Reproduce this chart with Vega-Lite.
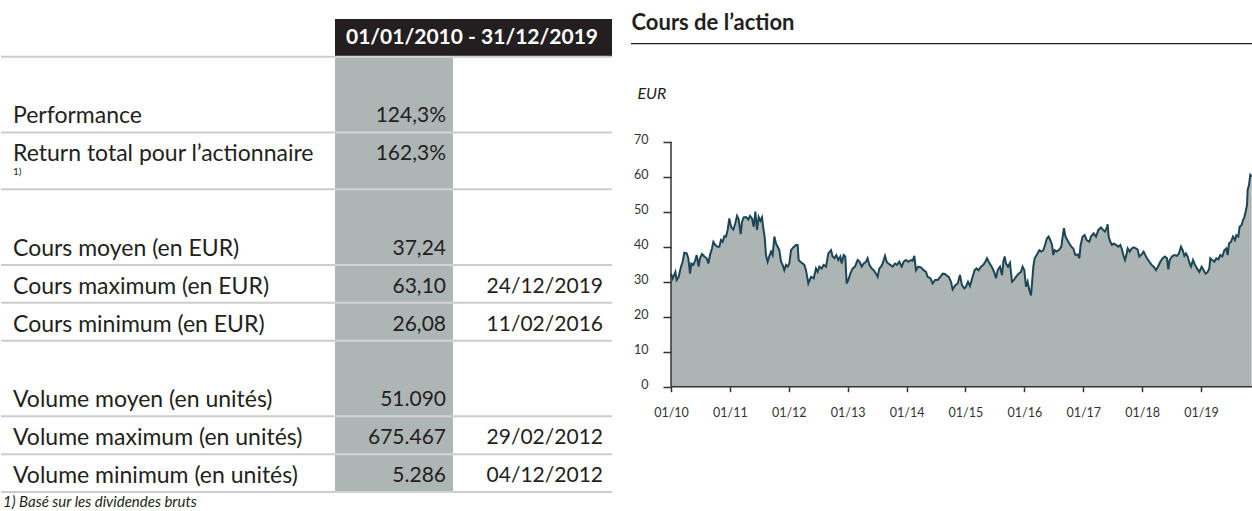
{
  "$schema": "https://vega.github.io/schema/vega-lite/v6.json",
  "padding": 0,
  "background": "white",
  "config": {"view": {"stroke": null}, "font": "Lato", "axis": {"labelFont": "Lato", "titleFont": "Lato"}},
  "datasets": {
    "lignes": [
      {"ligne": "perf", "libelle": "Performance", "note": "", "valeur": "124,3%", "date": ""},
      {"ligne": "ret", "libelle": "Return total pour l’actionnaire", "note": "1)", "valeur": "162,3%", "date": ""},
      {"ligne": "cmoy", "libelle": "Cours moyen (en EUR)", "note": "", "valeur": "37,24", "date": ""},
      {"ligne": "cmax", "libelle": "Cours maximum (en EUR)", "note": "", "valeur": "63,10", "date": "24/12/2019"},
      {"ligne": "cmin", "libelle": "Cours minimum (en EUR)", "note": "", "valeur": "26,08", "date": "11/02/2016"},
      {"ligne": "vmoy", "libelle": "Volume moyen (en unités)", "note": "", "valeur": "51.090", "date": ""},
      {"ligne": "vmax", "libelle": "Volume maximum (en unités)", "note": "", "valeur": "675.467", "date": "29/02/2012"},
      {"ligne": "vmin", "libelle": "Volume minimum (en unités)", "note": "", "valeur": "5.286", "date": "04/12/2012"}
    ],
    "separateurs": [
      {"cle": "perf_a"}, {"cle": "ret_a"}, {"cle": "cmoy_a"}, {"cle": "cmax_a"}, {"cle": "cmin_a"},
      {"cle": "vmoy_a"}, {"cle": "vmax_a"}, {"cle": "vmin_a"}, {"cle": "note"}
    ],
    "entete": [{"periode": "01/01/2010 - 31/12/2019"}],
    "pied": [{"texte": "1) Basé sur les dividendes bruts"}],
    "titre": [{"titre": "Cours de l’action"}],
    "prix": [
      {"annee": 2010.000, "cours": 32.3}, {"annee": 2010.028, "cours": 30.9}, {"annee": 2010.074, "cours": 32.8},
      {"annee": 2010.096, "cours": 30.5}, {"annee": 2010.130, "cours": 31.4}, {"annee": 2010.170, "cours": 34.3},
      {"annee": 2010.198, "cours": 35.7}, {"annee": 2010.226, "cours": 38.3}, {"annee": 2010.266, "cours": 38.1},
      {"annee": 2010.294, "cours": 36.7}, {"annee": 2010.323, "cours": 32.3}, {"annee": 2010.345, "cours": 35.2},
      {"annee": 2010.379, "cours": 34.8}, {"annee": 2010.413, "cours": 36.2}, {"annee": 2010.436, "cours": 37.6},
      {"annee": 2010.470, "cours": 34.3}, {"annee": 2010.492, "cours": 36.7}, {"annee": 2010.526, "cours": 37.9},
      {"annee": 2010.566, "cours": 37.2}, {"annee": 2010.606, "cours": 36.7}, {"annee": 2010.634, "cours": 35.2},
      {"annee": 2010.662, "cours": 37.6}, {"annee": 2010.696, "cours": 39.5}, {"annee": 2010.719, "cours": 41.4},
      {"annee": 2010.753, "cours": 40.5}, {"annee": 2010.792, "cours": 40.0}, {"annee": 2010.821, "cours": 40.0},
      {"annee": 2010.849, "cours": 41.9}, {"annee": 2010.877, "cours": 41.4}, {"annee": 2010.906, "cours": 43.0},
      {"annee": 2010.934, "cours": 42.9}, {"annee": 2010.962, "cours": 44.8}, {"annee": 2010.990, "cours": 48.1},
      {"annee": 2011.019, "cours": 45.7}, {"annee": 2011.058, "cours": 44.9}, {"annee": 2011.092, "cours": 46.7},
      {"annee": 2011.121, "cours": 48.8}, {"annee": 2011.149, "cours": 47.8}, {"annee": 2011.183, "cours": 43.6},
      {"annee": 2011.206, "cours": 47.1}, {"annee": 2011.234, "cours": 48.4}, {"annee": 2011.274, "cours": 48.5},
      {"annee": 2011.313, "cours": 47.8}, {"annee": 2011.341, "cours": 48.8}, {"annee": 2011.375, "cours": 48.1},
      {"annee": 2011.404, "cours": 45.7}, {"annee": 2011.432, "cours": 50.0}, {"annee": 2011.460, "cours": 44.8},
      {"annee": 2011.489, "cours": 48.5}, {"annee": 2011.517, "cours": 47.4}, {"annee": 2011.545, "cours": 48.4},
      {"annee": 2011.568, "cours": 45.2}, {"annee": 2011.590, "cours": 42.9}, {"annee": 2011.613, "cours": 37.6},
      {"annee": 2011.641, "cours": 35.7}, {"annee": 2011.670, "cours": 37.3}, {"annee": 2011.698, "cours": 38.6},
      {"annee": 2011.726, "cours": 37.6}, {"annee": 2011.755, "cours": 42.9}, {"annee": 2011.783, "cours": 40.9},
      {"annee": 2011.811, "cours": 40.0}, {"annee": 2011.840, "cours": 39.0}, {"annee": 2011.868, "cours": 35.7},
      {"annee": 2011.896, "cours": 34.8}, {"annee": 2011.924, "cours": 33.3}, {"annee": 2011.953, "cours": 34.8},
      {"annee": 2011.981, "cours": 34.3}, {"annee": 2012.009, "cours": 35.2}, {"annee": 2012.038, "cours": 39.0},
      {"annee": 2012.077, "cours": 39.8}, {"annee": 2012.123, "cours": 40.5}, {"annee": 2012.151, "cours": 40.5},
      {"annee": 2012.168, "cours": 36.2}, {"annee": 2012.196, "cours": 35.7}, {"annee": 2012.236, "cours": 35.2},
      {"annee": 2012.264, "cours": 34.8}, {"annee": 2012.292, "cours": 33.3}, {"annee": 2012.332, "cours": 29.5},
      {"annee": 2012.377, "cours": 31.4}, {"annee": 2012.423, "cours": 31.0}, {"annee": 2012.462, "cours": 33.8},
      {"annee": 2012.491, "cours": 32.8}, {"annee": 2012.519, "cours": 34.3}, {"annee": 2012.558, "cours": 33.8},
      {"annee": 2012.592, "cours": 34.8}, {"annee": 2012.632, "cours": 34.3}, {"annee": 2012.672, "cours": 38.1},
      {"annee": 2012.717, "cours": 39.0}, {"annee": 2012.745, "cours": 37.2}, {"annee": 2012.774, "cours": 36.7},
      {"annee": 2012.807, "cours": 37.6}, {"annee": 2012.841, "cours": 36.2}, {"annee": 2012.875, "cours": 37.2},
      {"annee": 2012.898, "cours": 35.2}, {"annee": 2012.932, "cours": 37.6}, {"annee": 2012.960, "cours": 37.2},
      {"annee": 2012.983, "cours": 29.5}, {"annee": 2013.011, "cours": 30.5}, {"annee": 2013.045, "cours": 32.3},
      {"annee": 2013.085, "cours": 33.8}, {"annee": 2013.124, "cours": 34.3}, {"annee": 2013.170, "cours": 36.2},
      {"annee": 2013.204, "cours": 35.7}, {"annee": 2013.238, "cours": 34.3}, {"annee": 2013.272, "cours": 35.2},
      {"annee": 2013.311, "cours": 35.7}, {"annee": 2013.339, "cours": 36.7}, {"annee": 2013.368, "cours": 34.8},
      {"annee": 2013.407, "cours": 33.8}, {"annee": 2013.441, "cours": 33.3}, {"annee": 2013.481, "cours": 32.3},
      {"annee": 2013.509, "cours": 31.4}, {"annee": 2013.538, "cours": 33.8}, {"annee": 2013.566, "cours": 34.3},
      {"annee": 2013.594, "cours": 35.2}, {"annee": 2013.634, "cours": 37.4}, {"annee": 2013.662, "cours": 35.7},
      {"annee": 2013.690, "cours": 35.2}, {"annee": 2013.724, "cours": 34.8}, {"annee": 2013.764, "cours": 34.3},
      {"annee": 2013.804, "cours": 35.2}, {"annee": 2013.838, "cours": 34.8}, {"annee": 2013.877, "cours": 35.7},
      {"annee": 2013.917, "cours": 34.3}, {"annee": 2013.951, "cours": 35.7}, {"annee": 2013.990, "cours": 36.2},
      {"annee": 2014.030, "cours": 35.7}, {"annee": 2014.075, "cours": 36.2}, {"annee": 2014.104, "cours": 36.0},
      {"annee": 2014.132, "cours": 37.4}, {"annee": 2014.160, "cours": 33.3}, {"annee": 2014.200, "cours": 34.3},
      {"annee": 2014.245, "cours": 34.1}, {"annee": 2014.290, "cours": 33.3}, {"annee": 2014.330, "cours": 32.8},
      {"annee": 2014.358, "cours": 31.4}, {"annee": 2014.404, "cours": 31.0}, {"annee": 2014.443, "cours": 29.5},
      {"annee": 2014.483, "cours": 30.5}, {"annee": 2014.528, "cours": 30.5}, {"annee": 2014.573, "cours": 31.4},
      {"annee": 2014.613, "cours": 32.3}, {"annee": 2014.653, "cours": 32.2}, {"annee": 2014.670, "cours": 31.9},
      {"annee": 2014.715, "cours": 31.4}, {"annee": 2014.755, "cours": 30.0}, {"annee": 2014.783, "cours": 27.8},
      {"annee": 2014.828, "cours": 29.0}, {"annee": 2014.868, "cours": 29.5}, {"annee": 2014.907, "cours": 31.9},
      {"annee": 2014.941, "cours": 29.0}, {"annee": 2014.981, "cours": 28.1}, {"annee": 2015.009, "cours": 28.6},
      {"annee": 2015.043, "cours": 30.0}, {"annee": 2015.077, "cours": 28.8}, {"annee": 2015.122, "cours": 31.4},
      {"annee": 2015.156, "cours": 33.3}, {"annee": 2015.190, "cours": 33.8}, {"annee": 2015.224, "cours": 33.3},
      {"annee": 2015.264, "cours": 34.3}, {"annee": 2015.304, "cours": 34.8}, {"annee": 2015.338, "cours": 35.7},
      {"annee": 2015.366, "cours": 36.7}, {"annee": 2015.394, "cours": 35.7}, {"annee": 2015.428, "cours": 34.8},
      {"annee": 2015.462, "cours": 33.8}, {"annee": 2015.496, "cours": 32.3}, {"annee": 2015.519, "cours": 31.0},
      {"annee": 2015.547, "cours": 33.3}, {"annee": 2015.587, "cours": 34.3}, {"annee": 2015.621, "cours": 31.9},
      {"annee": 2015.643, "cours": 35.7}, {"annee": 2015.666, "cours": 37.2}, {"annee": 2015.688, "cours": 35.2},
      {"annee": 2015.722, "cours": 34.3}, {"annee": 2015.756, "cours": 35.4}, {"annee": 2015.790, "cours": 30.0},
      {"annee": 2015.824, "cours": 30.5}, {"annee": 2015.858, "cours": 31.4}, {"annee": 2015.903, "cours": 32.3},
      {"annee": 2015.943, "cours": 32.8}, {"annee": 2015.971, "cours": 34.3}, {"annee": 2016.000, "cours": 33.3},
      {"annee": 2016.028, "cours": 28.6}, {"annee": 2016.056, "cours": 30.0}, {"annee": 2016.085, "cours": 27.6},
      {"annee": 2016.113, "cours": 26.1}, {"annee": 2016.130, "cours": 29.5}, {"annee": 2016.153, "cours": 34.3},
      {"annee": 2016.175, "cours": 36.7}, {"annee": 2016.209, "cours": 37.6}, {"annee": 2016.254, "cours": 39.0},
      {"annee": 2016.288, "cours": 38.6}, {"annee": 2016.322, "cours": 39.0}, {"annee": 2016.351, "cours": 40.5},
      {"annee": 2016.385, "cours": 42.4}, {"annee": 2016.413, "cours": 42.9}, {"annee": 2016.441, "cours": 41.9},
      {"annee": 2016.470, "cours": 40.5}, {"annee": 2016.492, "cours": 37.6}, {"annee": 2016.515, "cours": 39.0},
      {"annee": 2016.549, "cours": 38.6}, {"annee": 2016.594, "cours": 39.2}, {"annee": 2016.628, "cours": 40.0},
      {"annee": 2016.651, "cours": 42.9}, {"annee": 2016.673, "cours": 45.3}, {"annee": 2016.696, "cours": 43.1},
      {"annee": 2016.730, "cours": 41.9}, {"annee": 2016.764, "cours": 40.9}, {"annee": 2016.798, "cours": 40.0},
      {"annee": 2016.832, "cours": 39.5}, {"annee": 2016.866, "cours": 37.6}, {"annee": 2016.906, "cours": 37.8},
      {"annee": 2016.934, "cours": 36.7}, {"annee": 2016.956, "cours": 40.5}, {"annee": 2016.990, "cours": 42.9},
      {"annee": 2017.024, "cours": 43.3}, {"annee": 2017.058, "cours": 41.9}, {"annee": 2017.104, "cours": 41.4},
      {"annee": 2017.132, "cours": 42.9}, {"annee": 2017.177, "cours": 43.8}, {"annee": 2017.217, "cours": 42.9},
      {"annee": 2017.257, "cours": 44.8}, {"annee": 2017.302, "cours": 45.5}, {"annee": 2017.336, "cours": 44.8},
      {"annee": 2017.370, "cours": 44.3}, {"annee": 2017.404, "cours": 45.7}, {"annee": 2017.415, "cours": 46.4},
      {"annee": 2017.432, "cours": 42.9}, {"annee": 2017.460, "cours": 41.4}, {"annee": 2017.489, "cours": 40.5},
      {"annee": 2017.517, "cours": 40.9}, {"annee": 2017.557, "cours": 40.5}, {"annee": 2017.596, "cours": 40.0},
      {"annee": 2017.630, "cours": 40.5}, {"annee": 2017.653, "cours": 39.5}, {"annee": 2017.681, "cours": 37.6},
      {"annee": 2017.709, "cours": 36.2}, {"annee": 2017.732, "cours": 37.6}, {"annee": 2017.755, "cours": 39.5},
      {"annee": 2017.789, "cours": 38.6}, {"annee": 2017.823, "cours": 39.5}, {"annee": 2017.856, "cours": 39.8},
      {"annee": 2017.896, "cours": 39.5}, {"annee": 2017.924, "cours": 39.2}, {"annee": 2017.953, "cours": 37.2},
      {"annee": 2017.992, "cours": 37.8}, {"annee": 2018.026, "cours": 38.6}, {"annee": 2018.055, "cours": 37.6},
      {"annee": 2018.083, "cours": 36.7}, {"annee": 2018.123, "cours": 35.7}, {"annee": 2018.162, "cours": 34.8},
      {"annee": 2018.196, "cours": 34.3}, {"annee": 2018.236, "cours": 33.3}, {"annee": 2018.275, "cours": 34.5},
      {"annee": 2018.309, "cours": 35.7}, {"annee": 2018.349, "cours": 36.7}, {"annee": 2018.389, "cours": 37.2},
      {"annee": 2018.422, "cours": 36.7}, {"annee": 2018.445, "cours": 33.5}, {"annee": 2018.468, "cours": 36.2},
      {"annee": 2018.507, "cours": 37.2}, {"annee": 2018.547, "cours": 37.6}, {"annee": 2018.592, "cours": 37.4},
      {"annee": 2018.626, "cours": 38.1}, {"annee": 2018.660, "cours": 40.0}, {"annee": 2018.689, "cours": 39.0},
      {"annee": 2018.717, "cours": 37.4}, {"annee": 2018.745, "cours": 38.1}, {"annee": 2018.773, "cours": 37.2},
      {"annee": 2018.807, "cours": 35.2}, {"annee": 2018.830, "cours": 34.3}, {"annee": 2018.864, "cours": 36.2},
      {"annee": 2018.898, "cours": 34.8}, {"annee": 2018.932, "cours": 33.8}, {"annee": 2018.972, "cours": 32.8},
      {"annee": 2019.011, "cours": 34.3}, {"annee": 2019.045, "cours": 33.3}, {"annee": 2019.079, "cours": 32.3},
      {"annee": 2019.113, "cours": 32.8}, {"annee": 2019.141, "cours": 33.8}, {"annee": 2019.158, "cours": 36.7},
      {"annee": 2019.192, "cours": 36.2}, {"annee": 2019.226, "cours": 35.7}, {"annee": 2019.260, "cours": 36.7},
      {"annee": 2019.294, "cours": 36.4}, {"annee": 2019.328, "cours": 37.6}, {"annee": 2019.362, "cours": 37.2},
      {"annee": 2019.396, "cours": 39.0}, {"annee": 2019.430, "cours": 39.5}, {"annee": 2019.453, "cours": 37.6},
      {"annee": 2019.475, "cours": 40.9}, {"annee": 2019.509, "cours": 41.4}, {"annee": 2019.543, "cours": 42.9},
      {"annee": 2019.577, "cours": 41.9}, {"annee": 2019.600, "cours": 43.3}, {"annee": 2019.634, "cours": 42.9},
      {"annee": 2019.656, "cours": 45.7}, {"annee": 2019.690, "cours": 46.2}, {"annee": 2019.713, "cours": 47.6},
      {"annee": 2019.735, "cours": 48.4}, {"annee": 2019.758, "cours": 50.0}, {"annee": 2019.781, "cours": 51.9},
      {"annee": 2019.792, "cours": 56.2}, {"annee": 2019.815, "cours": 57.6}, {"annee": 2019.837, "cours": 60.5},
      {"annee": 2019.860, "cours": 60.0}
    ]
  },
  "hconcat": [
    {
      "width": 334,
      "height": 511,
      "layer": [
        {
          "data": {"name": "separateurs"},
          "mark": {"type": "rule", "color": "#cccccc", "strokeWidth": 2},
          "encoding": {
            "y": {"field": "cle", "type": "nominal", "axis": null, "bandPosition": 0,
              "scale": {"type": "band", "paddingInner": 0, "paddingOuter": 0, "domain": ["haut","entete_a","entete_b","perf_a","perf_b","perf_c","perf","ret_a","ret","ret_c","cmoy_a","cmoy_b","cmoy_c","cmoy","cmax_a","cmax","cmin_a","cmin","vmoy_a","vmoy_b","vmoy_c","vmoy","vmax_a","vmax","vmin_a","vmin","note"]}}
          }
        },
        {
          "data": {"name": "lignes"},
          "mark": {"type": "text", "align": "left", "baseline": "middle", "font": "Lato", "fontSize": 23, "color": "#231f20", "dx": 12},
          "encoding": {
            "x": {"datum": "libelle", "type": "nominal", "axis": null, "bandPosition": 0, "scale": {"type": "band", "paddingInner": 0, "paddingOuter": 0}},
            "y": {"field": "ligne", "type": "nominal", "axis": null, "bandPosition": 0.15,
              "scale": {"type": "band", "paddingInner": 0, "paddingOuter": 0, "domain": ["haut","entete_a","entete_b","perf_a","perf_b","perf_c","perf","ret_a","ret","ret_c","cmoy_a","cmoy_b","cmoy_c","cmoy","cmax_a","cmax","cmin_a","cmin","vmoy_a","vmoy_b","vmoy_c","vmoy","vmax_a","vmax","vmin_a","vmin","note"]}},
            "text": {"field": "libelle"}
          }
        },
        {
          "data": {"name": "lignes"},
          "mark": {"type": "text", "align": "left", "baseline": "middle", "font": "Lato", "fontSize": 10, "color": "#231f20", "dx": 12, "dy": 18},
          "encoding": {
            "x": {"datum": "libelle", "type": "nominal", "axis": null, "bandPosition": 0, "scale": {"type": "band", "paddingInner": 0, "paddingOuter": 0}},
            "y": {"field": "ligne", "type": "nominal", "axis": null, "bandPosition": 0.15,
              "scale": {"type": "band", "paddingInner": 0, "paddingOuter": 0, "domain": ["haut","entete_a","entete_b","perf_a","perf_b","perf_c","perf","ret_a","ret","ret_c","cmoy_a","cmoy_b","cmoy_c","cmoy","cmax_a","cmax","cmin_a","cmin","vmoy_a","vmoy_b","vmoy_c","vmoy","vmax_a","vmax","vmin_a","vmin","note"]}},
            "text": {"field": "note"}
          }
        },
        {
          "data": {"name": "pied"},
          "mark": {"type": "text", "align": "left", "baseline": "middle", "font": "Lato", "fontSize": 15, "fontStyle": "italic", "color": "#231f20", "dx": 2},
          "encoding": {
            "x": {"datum": "libelle", "type": "nominal", "axis": null, "bandPosition": 0, "scale": {"type": "band", "paddingInner": 0, "paddingOuter": 0}},
            "y": {"datum": "note", "type": "nominal", "axis": null, "bandPosition": 0.5,
              "scale": {"type": "band", "paddingInner": 0, "paddingOuter": 0, "domain": ["haut","entete_a","entete_b","perf_a","perf_b","perf_c","perf","ret_a","ret","ret_c","cmoy_a","cmoy_b","cmoy_c","cmoy","cmax_a","cmax","cmin_a","cmin","vmoy_a","vmoy_b","vmoy_c","vmoy","vmax_a","vmax","vmin_a","vmin","note"]}},
            "text": {"field": "texte"}
          }
        }
      ]
    },
    {
      "width": 118,
      "height": 511,
      "layer": [
        {
          "data": {"name": "entete"},
          "mark": {"type": "rect", "color": "#aeb5b5"},
          "encoding": {
            "y": {"datum": "perf_a", "type": "nominal", "axis": null, "bandPosition": 0,
              "scale": {"type": "band", "paddingInner": 0, "paddingOuter": 0, "domain": ["haut","entete_a","entete_b","perf_a","perf_b","perf_c","perf","ret_a","ret","ret_c","cmoy_a","cmoy_b","cmoy_c","cmoy","cmax_a","cmax","cmin_a","cmin","vmoy_a","vmoy_b","vmoy_c","vmoy","vmax_a","vmax","vmin_a","vmin","note"]}},
            "y2": {"datum": "note", "bandPosition": 0}
          }
        },
        {
          "data": {"name": "entete"},
          "mark": {"type": "rect", "color": "#231f20"},
          "encoding": {
            "y": {"datum": "entete_a", "type": "nominal", "axis": null, "bandPosition": 0,
              "scale": {"type": "band", "paddingInner": 0, "paddingOuter": 0, "domain": ["haut","entete_a","entete_b","perf_a","perf_b","perf_c","perf","ret_a","ret","ret_c","cmoy_a","cmoy_b","cmoy_c","cmoy","cmax_a","cmax","cmin_a","cmin","vmoy_a","vmoy_b","vmoy_c","vmoy","vmax_a","vmax","vmin_a","vmin","note"]}},
            "y2": {"datum": "perf_a", "bandPosition": 0}
          }
        },
        {
          "data": {"name": "separateurs"},
          "mark": {"type": "rule", "color": "#d4d4d4", "strokeWidth": 2},
          "encoding": {
            "y": {"field": "cle", "type": "nominal", "axis": null, "bandPosition": 0,
              "scale": {"type": "band", "paddingInner": 0, "paddingOuter": 0, "domain": ["haut","entete_a","entete_b","perf_a","perf_b","perf_c","perf","ret_a","ret","ret_c","cmoy_a","cmoy_b","cmoy_c","cmoy","cmax_a","cmax","cmin_a","cmin","vmoy_a","vmoy_b","vmoy_c","vmoy","vmax_a","vmax","vmin_a","vmin","note"]}}
          }
        },
        {
          "data": {"name": "lignes"},
          "mark": {"type": "text", "align": "right", "baseline": "middle", "font": "Lato", "fontSize": 21, "color": "#231f20", "dx": -7},
          "encoding": {
            "x": {"datum": "valeur", "type": "nominal", "axis": null, "bandPosition": 1, "scale": {"type": "band", "paddingInner": 0, "paddingOuter": 0}},
            "y": {"field": "ligne", "type": "nominal", "axis": null, "bandPosition": 0.15,
              "scale": {"type": "band", "paddingInner": 0, "paddingOuter": 0, "domain": ["haut","entete_a","entete_b","perf_a","perf_b","perf_c","perf","ret_a","ret","ret_c","cmoy_a","cmoy_b","cmoy_c","cmoy","cmax_a","cmax","cmin_a","cmin","vmoy_a","vmoy_b","vmoy_c","vmoy","vmax_a","vmax","vmin_a","vmin","note"]}},
            "text": {"field": "valeur"}
          }
        }
      ]
    },
    {
      "width": 159,
      "height": 511,
      "layer": [
        {
          "data": {"name": "entete"},
          "mark": {"type": "rect", "color": "#231f20"},
          "encoding": {
            "y": {"datum": "entete_a", "type": "nominal", "axis": null, "bandPosition": 0,
              "scale": {"type": "band", "paddingInner": 0, "paddingOuter": 0, "domain": ["haut","entete_a","entete_b","perf_a","perf_b","perf_c","perf","ret_a","ret","ret_c","cmoy_a","cmoy_b","cmoy_c","cmoy","cmax_a","cmax","cmin_a","cmin","vmoy_a","vmoy_b","vmoy_c","vmoy","vmax_a","vmax","vmin_a","vmin","note"]}},
            "y2": {"datum": "perf_a", "bandPosition": 0}
          }
        },
        {
          "data": {"name": "separateurs"},
          "mark": {"type": "rule", "color": "#cccccc", "strokeWidth": 2},
          "encoding": {
            "y": {"field": "cle", "type": "nominal", "axis": null, "bandPosition": 0,
              "scale": {"type": "band", "paddingInner": 0, "paddingOuter": 0, "domain": ["haut","entete_a","entete_b","perf_a","perf_b","perf_c","perf","ret_a","ret","ret_c","cmoy_a","cmoy_b","cmoy_c","cmoy","cmax_a","cmax","cmin_a","cmin","vmoy_a","vmoy_b","vmoy_c","vmoy","vmax_a","vmax","vmin_a","vmin","note"]}}
          }
        },
        {
          "data": {"name": "lignes"},
          "mark": {"type": "text", "align": "right", "baseline": "middle", "font": "Lato", "fontSize": 21, "color": "#231f20", "dx": -9},
          "encoding": {
            "x": {"datum": "date", "type": "nominal", "axis": null, "bandPosition": 1, "scale": {"type": "band", "paddingInner": 0, "paddingOuter": 0}},
            "y": {"field": "ligne", "type": "nominal", "axis": null, "bandPosition": 0.15,
              "scale": {"type": "band", "paddingInner": 0, "paddingOuter": 0, "domain": ["haut","entete_a","entete_b","perf_a","perf_b","perf_c","perf","ret_a","ret","ret_c","cmoy_a","cmoy_b","cmoy_c","cmoy","cmax_a","cmax","cmin_a","cmin","vmoy_a","vmoy_b","vmoy_c","vmoy","vmax_a","vmax","vmin_a","vmin","note"]}},
            "text": {"field": "date"}
          }
        },
        {
          "data": {"name": "entete"},
          "mark": {"type": "text", "align": "center", "baseline": "middle", "font": "Lato", "fontSize": 21, "fontWeight": "bold", "color": "#ffffff", "dx": 19},
          "encoding": {
            "x": {"datum": "date", "type": "nominal", "axis": null, "bandPosition": 0, "scale": {"type": "band", "paddingInner": 0, "paddingOuter": 0}},
            "y": {"datum": "entete_b", "type": "nominal", "axis": null, "bandPosition": 0,
              "scale": {"type": "band", "paddingInner": 0, "paddingOuter": 0, "domain": ["haut","entete_a","entete_b","perf_a","perf_b","perf_c","perf","ret_a","ret","ret_c","cmoy_a","cmoy_b","cmoy_c","cmoy","cmax_a","cmax","cmin_a","cmin","vmoy_a","vmoy_b","vmoy_c","vmoy","vmax_a","vmax","vmin_a","vmin","note"]}},
            "text": {"field": "periode"}
          }
        }
      ]
    },
    {
      "width": 640,
      "height": 386.7,
      "layer": [
        {
          "data": {"name": "prix"},
          "mark": {"type": "area", "color": "#adb4b4", "opacity": 1, "fillOpacity": 1, "line": {"color": "#1c4655", "strokeWidth": 2}, "clip": true},
          "encoding": {
            "x": {"field": "annee", "type": "quantitative",
              "scale": {"domain": [2008.9981, 2019.866], "nice": false, "zero": false},
              "axis": {"title": null, "values": [2010, 2011, 2012, 2013, 2014, 2015, 2016, 2017, 2018, 2019],
                "labelExpr": "'01/' + slice(toString(datum.value), 2)", "domain": false, "grid": false,
                "tickSize": 5, "tickColor": "#333333", "tickWidth": 1.5, "labelFontSize": 12.5, "labelColor": "#333333",
                "labelPadding": 15, "labelFlush": false, "labelOverlap": false}},
            "y": {"field": "cours", "type": "quantitative",
              "scale": {"domain": [0, 110.49], "nice": false, "zero": true},
              "axis": {"title": "EUR", "titleAngle": 0, "titleAlign": "left", "titleBaseline": "middle", "titleX": -34, "titleY": 93,
                "titleFontStyle": "italic", "titleFontWeight": "normal", "titleFontSize": 16, "titleColor": "#231f20",
                "offset": -59, "values": [0, 10, 20, 30, 40, 50, 60, 70], "domain": false, "grid": false,
                "tickSize": 8, "tickColor": "#333333", "tickWidth": 1.5, "labelFontSize": 12.5, "labelColor": "#333333",
                "labelPadding": 15, "labelOffset": -2}}
          }
        },
        {
          "data": {"name": "titre"},
          "mark": {"type": "rule", "color": "#333333", "strokeWidth": 1.5},
          "encoding": {
            "x": {"datum": 2010, "type": "quantitative"},
            "y": {"datum": 0, "type": "quantitative"},
            "y2": {"datum": 70}
          }
        },
        {
          "data": {"name": "titre"},
          "mark": {"type": "rule", "color": "#333333", "strokeWidth": 1.5},
          "encoding": {
            "x": {"datum": 2010, "type": "quantitative"},
            "x2": {"datum": 2019.866},
            "y": {"datum": 0, "type": "quantitative"}
          }
        },
        {
          "data": {"name": "titre"},
          "mark": {"type": "rule", "color": "#231f20", "strokeWidth": 1.2},
          "encoding": {
            "x": {"datum": 2009.3208, "type": "quantitative"},
            "x2": {"datum": 2019.866},
            "y": {"datum": 98, "type": "quantitative"}
          }
        },
        {
          "data": {"name": "titre"},
          "mark": {"type": "text", "align": "left", "baseline": "middle", "font": "Lato", "fontSize": 22, "fontWeight": "bold", "color": "#231f20"},
          "encoding": {
            "x": {"datum": 2009.33, "type": "quantitative"},
            "y": {"datum": 104, "type": "quantitative"},
            "text": {"field": "titre"}
          }
        }
      ]
    }
  ],
  "spacing": 0,
  "bounds": "flush"
}
